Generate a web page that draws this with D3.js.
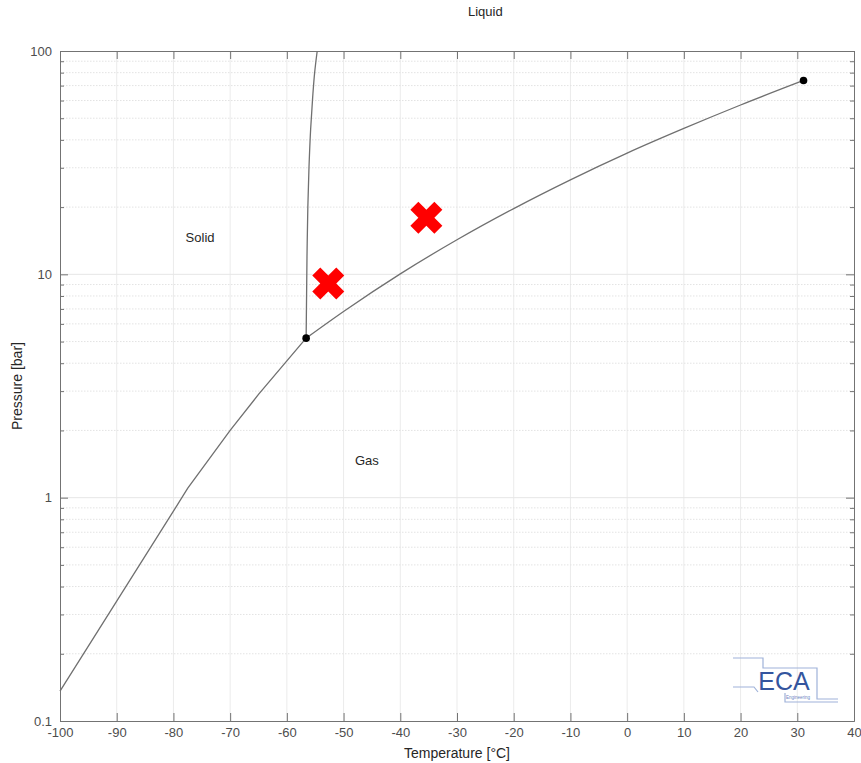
<!DOCTYPE html>
<html>
<head>
<meta charset="utf-8">
<script src="https://cdn.jsdelivr.net/npm/d3@7"></script>
<style>
  body { margin: 0; background: #fff; }
  svg { font-family: "Liberation Sans", Arial, sans-serif; }
  .tick text { fill: #4d4d4d; font-size: 13px; }
</style>
</head>
<body>
<div class="graph"></div>
<script>
// CO2 phase diagram data
var sublimationT = [-100, -90, -80, -77.5, -70, -65, -60, -56.6];
var sublimationP = [0.136, 0.344, 0.87, 1.1, 2.0, 2.9, 4.1, 5.18];

var meltingT = [-56.6, -56.45, -56.3, -56.1, -55.8, -55.45, -55.1, -54.65];
var meltingP = [5.18, 12, 20, 30, 45, 62, 80, 100];

var vaporT = [-56.6, -50, -40, -30, -20, -10, 0, 10, 20, 31.1];
var vaporP = [5.18, 6.82, 10.05, 14.28, 19.7, 26.5, 34.9, 45.0, 57.3, 73.8];

var pointT = [-56.6, 31.1];
var pointP = [5.18, 73.8];

var crossT = [-52.7, -35.4];
var crossP = [9.1, 17.9];

var labelText = ["Liquid", "Solid", "Gas"];
var labelT = [-25, -75.3, -45.9];
var labelP = [150, 14.7, 1.47];

var xTicks = [-100, -90, -80, -70, -60, -50, -40, -30, -20, -10, 0, 10, 20, 30, 40];
var yMajor = [0.1, 1, 10, 100];
var yMinor = [];
[0.1, 1, 10].forEach(function(d) { for (var k = 2; k < 10; k++) yMinor.push(d * k); });

var margin = {top: 51, right: 7, bottom: 42, left: 60},
    width = 861 - margin.left - margin.right,
    height = 763 - margin.top - margin.bottom;

var svg = d3.select(".graph").append("svg")
    .attr("width", 861)
    .attr("height", 763)
    .append("g")
    .attr("transform", "translate(" + margin.left + "," + margin.top + ")");

var xScale = d3.scaleLinear().domain([-100, 40]).range([0, width]);
var yScale = d3.scaleLog().domain([0.1, 100]).range([height, 0]);

// gridlines
svg.append("g").selectAll("line").data(xTicks.slice(1, -1)).enter().append("line")
    .attr("x1", function(d) { return xScale(d); }).attr("x2", function(d) { return xScale(d); })
    .attr("y1", 0).attr("y2", height)
    .attr("stroke", "#ebebeb");
svg.append("g").selectAll("line").data(yMinor).enter().append("line")
    .attr("x1", 0).attr("x2", width)
    .attr("y1", function(d) { return yScale(d); }).attr("y2", function(d) { return yScale(d); })
    .attr("stroke", "#e3e3e3").attr("stroke-dasharray", "1.5,1.5");
svg.append("g").selectAll("line").data(yMajor.slice(1, -1)).enter().append("line")
    .attr("x1", 0).attr("x2", width)
    .attr("y1", function(d) { return yScale(d); }).attr("y2", function(d) { return yScale(d); })
    .attr("stroke", "#e6e6e6");

// axes (MATLAB style box, ticks pointing in)
function styleAxis(g) {
    g.select(".domain").attr("stroke", "#737373");
    g.selectAll(".tick line").attr("stroke", "#737373");
}
svg.append("g").attr("transform", "translate(0," + height + ")")
    .call(d3.axisBottom(xScale).tickValues(xTicks).tickSize(-8).tickPadding(7).tickSizeOuter(0).tickFormat(String))
    .call(styleAxis);
svg.append("g")
    .call(d3.axisTop(xScale).tickValues(xTicks).tickSize(-8).tickSizeOuter(0).tickFormat(""))
    .call(styleAxis);
svg.append("g")
    .call(d3.axisLeft(yScale).tickValues(yMajor).tickSize(-8).tickPadding(8).tickSizeOuter(0).tickFormat(String))
    .call(styleAxis);
svg.append("g")
    .call(d3.axisLeft(yScale).tickValues(yMinor).tickSize(-4).tickSizeOuter(0).tickFormat(""))
    .call(styleAxis);
svg.append("g").attr("transform", "translate(" + width + ",0)")
    .call(d3.axisRight(yScale).tickValues(yMajor).tickSize(-8).tickSizeOuter(0).tickFormat(""))
    .call(styleAxis);
svg.append("g").attr("transform", "translate(" + width + ",0)")
    .call(d3.axisRight(yScale).tickValues(yMinor).tickSize(-4).tickSizeOuter(0).tickFormat(""))
    .call(styleAxis);

// phase lines
var line = d3.line()
    .curve(d3.curveMonotoneX)
    .x(function(d) { return xScale(d[0]); })
    .y(function(d) { return yScale(d[1]); });
var lineY = d3.line()
    .curve(d3.curveMonotoneY)
    .x(function(d) { return xScale(d[0]); })
    .y(function(d) { return yScale(d[1]); });

svg.append("path").datum(d3.zip(sublimationT, sublimationP))
    .attr("d", d3.line().x(function(d) { return xScale(d[0]); }).y(function(d) { return yScale(d[1]); }))
    .attr("fill", "none").attr("stroke", "#707070").attr("stroke-width", 1.3);
svg.append("path").datum(d3.zip(meltingT, meltingP))
    .attr("d", lineY)
    .attr("fill", "none").attr("stroke", "#707070").attr("stroke-width", 1.3);
svg.append("path").datum(d3.zip(vaporT, vaporP))
    .attr("d", line)
    .attr("fill", "none").attr("stroke", "#707070").attr("stroke-width", 1.3);

// triple and critical points
svg.selectAll(".pt").data(d3.zip(pointT, pointP)).enter().append("circle")
    .attr("cx", function(d) { return xScale(d[0]); })
    .attr("cy", function(d) { return yScale(d[1]); })
    .attr("r", 3.8).attr("fill", "#000");

// red crosses
svg.selectAll(".cross").data(d3.zip(crossT, crossP)).enter().append("path")
    .attr("d", d3.symbol(d3.symbolCross, 640))
    .attr("transform", function(d) { return "translate(" + xScale(d[0]) + "," + yScale(d[1]) + ")rotate(45)"; })
    .attr("fill", "#ff0000");

// region labels
svg.selectAll(".lbl").data(labelText).enter().append("text")
    .attr("x", function(d, i) { return xScale(labelT[i]); })
    .attr("y", function(d, i) { return yScale(labelP[i]); })
    .attr("dy", "0.35em")
    .attr("text-anchor", "middle")
    .attr("font-size", "13px")
    .attr("fill", "#262626")
    .text(function(d) { return d; });

// axis titles
svg.append("text")
    .attr("text-anchor", "middle")
    .attr("transform", "translate(" + (width / 2) + "," + (height + 37) + ")")
    .attr("font-size", "14px").attr("fill", "#262626")
    .text("Temperature [°C]");
svg.append("text")
    .attr("text-anchor", "middle")
    .attr("transform", "translate(-38," + (height / 2) + ")rotate(-90)")
    .attr("font-size", "14px").attr("fill", "#262626")
    .text("Pressure [bar]");

// ECA logo
var logo = d3.select("svg").append("g");
logo.append("path").attr("d", "M733,658H763V668H817V699H838")
    .attr("fill", "none").attr("stroke", "#9fb2d9").attr("stroke-width", 1.2);
logo.append("path").attr("d", "M733,687H754L758,692")
    .attr("fill", "none").attr("stroke", "#9fb2d9").attr("stroke-width", 1.2);
logo.append("path").attr("d", "M785,693V702H838")
    .attr("fill", "none").attr("stroke", "#9fb2d9").attr("stroke-width", 1.2);
logo.append("text").attr("x", 784).attr("y", 690).attr("text-anchor", "middle")
    .attr("font-size", "25px").attr("fill", "#34559e").text("ECA");
logo.append("text").attr("x", 798).attr("y", 699).attr("text-anchor", "middle")
    .attr("font-size", "4.5px").attr("fill", "#6d85bf").text("Engineering");
</script>
</body>
</html>
